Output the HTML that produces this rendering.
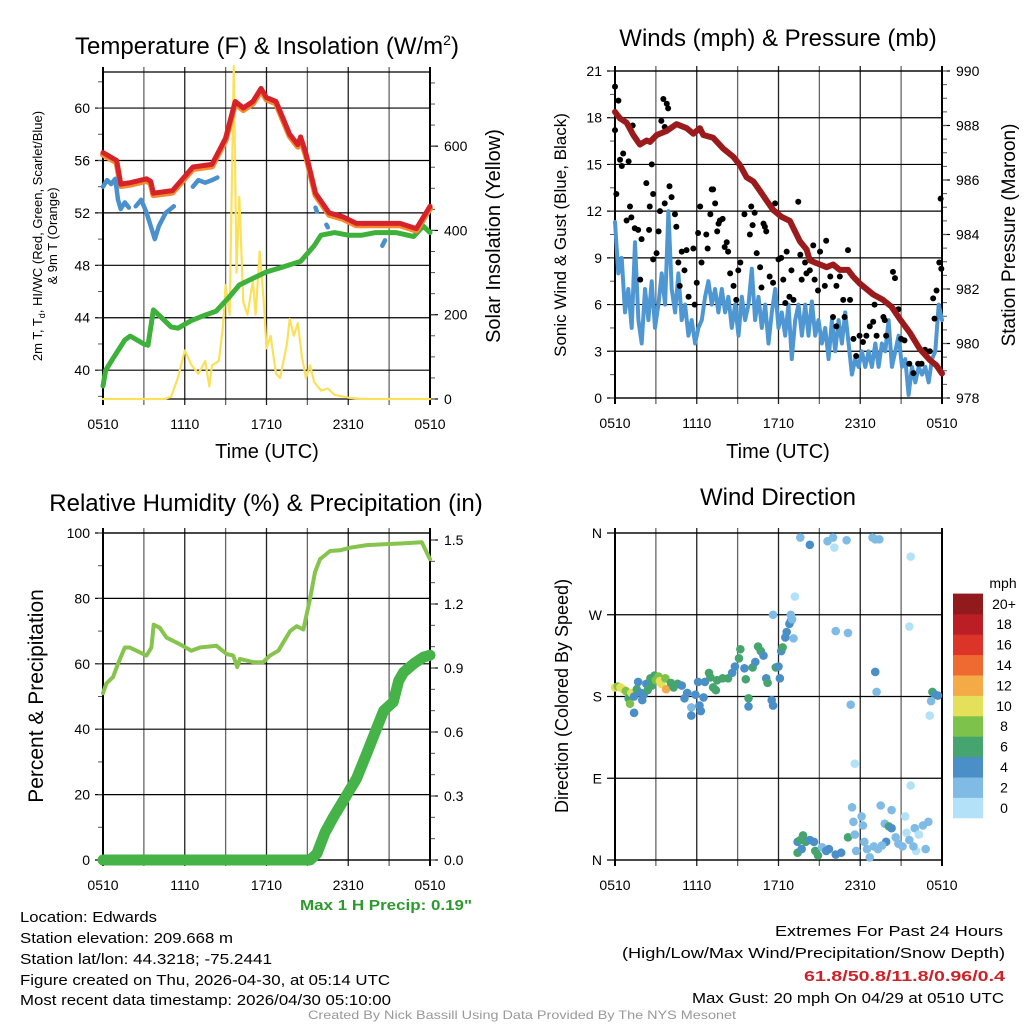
<!DOCTYPE html>
<html><head><meta charset="utf-8"><style>
html,body{margin:0;padding:0;background:#fff;}
svg{display:block;font-family:"Liberation Sans",sans-serif;}
.n{font-family:"Liberation Sans Narrow","Liberation Sans",sans-serif;}
</style></head><body>
<svg id="chart" width="1024" height="1024" viewBox="0 0 1024 1024" xmlns="http://www.w3.org/2000/svg">
<rect width="1024" height="1024" fill="#fff"/>
<text x="267" y="54" font-size="24" text-anchor="middle">Temperature (F) &amp; Insolation (W/m<tspan dy="-9" font-size="14">2</tspan><tspan dy="9">)</tspan></text>
<text x="778" y="46" font-size="24" text-anchor="middle">Winds (mph) &amp; Pressure (mb)</text>
<text x="266" y="511" font-size="24" text-anchor="middle">Relative Humidity (%) &amp; Precipitation (in)</text>
<text x="778" y="505" font-size="24" text-anchor="middle">Wind Direction</text>

<text transform="translate(42,236) rotate(-90)" font-size="13" text-anchor="middle">2m T, T<tspan font-size="9" dy="3">d</tspan><tspan dy="-3">, HI/WC (Red, Green, Scarlet/Blue)</tspan></text>
<text transform="translate(57,236) rotate(-90)" font-size="13" text-anchor="middle">&amp; 9m T (Orange)</text>
<text transform="translate(500,236) rotate(-90)" font-size="20" text-anchor="middle">Solar Insolation (Yellow)</text>
<text x="267" y="458" font-size="20" text-anchor="middle">Time (UTC)</text>
<text x="778" y="458" font-size="20" text-anchor="middle">Time (UTC)</text>
<text transform="translate(566,235) rotate(-90)" font-size="17" text-anchor="middle">Sonic Wind &amp; Gust (Blue, Black)</text>
<text transform="translate(1015,235) rotate(-90)" font-size="19" text-anchor="middle">Station Pressure (Maroon)</text>
<text transform="translate(43,696) rotate(-90)" font-size="21" text-anchor="middle">Percent &amp; Precipitation</text>
<text transform="translate(568,696) rotate(-90)" font-size="18" text-anchor="middle">Direction (Colored By Speed)</text>
<text x="1003" y="588" font-size="14" text-anchor="middle">mph</text>

<g class="n" font-size="15">
<text x="300" y="910" fill="#2e9a2e" font-weight="bold" textLength="172" lengthAdjust="spacingAndGlyphs">Max 1 H Precip: 0.19"</text>
<text x="20" y="922" textLength="137" lengthAdjust="spacingAndGlyphs">Location: Edwards</text>
<text x="20" y="943" textLength="213" lengthAdjust="spacingAndGlyphs">Station elevation: 209.668 m</text>
<text x="20" y="964" textLength="252" lengthAdjust="spacingAndGlyphs">Station lat/lon: 44.3218; -75.2441</text>
<text x="20" y="985" textLength="370" lengthAdjust="spacingAndGlyphs">Figure created on Thu, 2026-04-30, at 05:14 UTC</text>
<text x="20" y="1005" textLength="371" lengthAdjust="spacingAndGlyphs">Most recent data timestamp: 2026/04/30 05:10:00</text>
<text x="775" y="936" textLength="228" lengthAdjust="spacingAndGlyphs">Extremes For Past 24 Hours</text>
<text x="622" y="958" textLength="383" lengthAdjust="spacingAndGlyphs">(High/Low/Max Wind/Precipitation/Snow Depth)</text>
<text x="804" y="981" fill="#cc2229" font-weight="bold" textLength="201" lengthAdjust="spacingAndGlyphs">61.8/50.8/11.8/0.96/0.4</text>
<text x="692" y="1003" textLength="312" lengthAdjust="spacingAndGlyphs">Max Gust: 20 mph On 04/29 at 0510 UTC</text>
<text x="308" y="1019" font-size="12" fill="#999" textLength="428" lengthAdjust="spacingAndGlyphs">Created By Nick Bassill Using Data Provided By The NYS Mesonet</text>
</g>
<g id="layer"></g>
</svg>
<script>
// ---- Panel 1 data (hours since 0510 UTC) ----
const tempHours=[0,0.5,1,1.3,2,3.2,3.5,3.7,5.1,6.6,8,9,9.7,10.3,11,11.6,12,12.7,13.7,14.3,14.5,14.9,15.6,16.6,17.6,18.6,21.8,23,24];
const tempVals=[56.6,56.3,56,54.2,54.3,54.6,54.4,53.5,53.7,55.5,55.7,57.7,60.5,60,60.5,61.5,60.8,60.5,58,57.2,57.8,56.5,53.5,52,51.7,51.2,51.2,50.8,52.5];
const dewHours=[0,0.2,0.8,1.6,2,3,3.3,3.7,4.3,5,5.5,6.5,7.5,8.3,9.2,10,11,12,13,14.5,15.5,16,17,18,19,20,21.5,22.8,23.5,24];
const dewVals=[38.8,40,41,42.3,42.6,42,41.9,44.6,44,43.3,43.2,43.8,44.2,44.5,45.5,46.5,47,47.5,47.8,48.3,49.5,50.3,50.5,50.3,50.3,50.5,50.5,50.2,51,50.5];
const hiwcSegHours=[[0,0.3,0.6,0.9,1.1,1.3,1.6,1.9],[2.4,2.8,3.2,3.5,3.8,4.1,4.6,5.2],[6.6,7,7.5,8,8.4],[15.6,15.7],[16.4,16.5],[20.5,20.7]];
const hiwcSegVals=[[54,54.5,54.2,54.6,53,52.3,52.8,52.4],[52.5,53,52,51,50,51,52,52.5],[54,54.5,54.3,54.5,54.7],[52.4,52.1],[51.1,50.9],[49.5,49.9]];
const solarHours=[0,4.5,5,5.5,6,6.5,7,7.5,7.8,8,8.5,8.8,9,9.3,9.6,9.8,10,10.3,10.6,11,11.2,11.5,11.8,12,12.3,12.7,13,13.5,13.7,14,14.3,14.6,14.9,15.2,15.5,16,16.5,17,18,19,24];
const solarVals=[0,0,5,50,115,80,60,90,30,80,90,170,270,200,790,300,480,230,200,280,200,350,230,120,150,60,50,130,190,150,180,100,50,80,40,20,25,10,3,0,0];
const p1Ticks=[40,44,48,52,56,60];
const solarTicks=[0,200,400,600];
const timeLabels=["0510","1110","1710","2310","0510"];
// ---- Panel 2 data ----
const windVals=[11.3,8,9,5.5,7,4.5,10,5,3.5,7,5,7.5,4.5,6,8,6,12,7,5.5,8,5,6,4,5,3.5,4.5,5,6.5,7.5,6,7,5.5,7,5.5,6.5,4.5,6,4,6.5,5,6,8.3,5,6.5,4.5,6,3.5,5.5,7,4.5,5.5,4,6,2.5,5,6,4,6,4,6.2,4,5,3.5,4.5,2.5,5,3,5,3.5,5.5,3.5,1.5,2.5,2,3,2,3,2,3.5,2,3.5,3,5,2,3,4,2,2.5,0.2,2,1,2,1.5,2,1,2.5,3,6,5];
const gustHours=[0,0,0.25,0.1,0.37,0.6,0.5,1,1.1,0.85,1.2,1.3,1.45,1.7,1.95,1.85,2.3,2.55,2.5,2.7,2.8,2.8,3.05,3.3,3.2,3.4,3.55,3.8,3.9,3.65,4,4.15,3.65,4.4,4.5,4.65,4.75,4.9,5.25,5.1,5.4,5.75,5.85,6,6.1,6.25,6.35,6.7,6.8,7.1,7.2,7.35,7,7.5,7.6,7.7,7.9,8.05,8.2,8.3,8.45,8.7,8.9,9.05,9.2,9.5,9.9,10,10.1,10.25,10.4,10.65,10.75,10.9,11,11.1,11.35,11.6,11.75,12,12.2,12.35,12.5,12.6,12.8,12.95,13.1,13.45,13.6,13.7,13.95,14.05,14.3,14.55,14.65,14.9,15.05,15.4,15.5,15.8,16,16.25,16.25,16.5,16.75,16.85,17.1,17.25,17.5,17.7,17.95,18.2,18.45,18.7,18.95,19.05,19.2,19.7,19.8,19.9,20.4,20.55,20.8,21,21.25,21.6,21.9,22.25,22.5,22.75,23.1,23.35,23.45,23.6,23.8,23.95,23.9];
const gustVals=[20,17.2,19.1,13.1,15.3,15.7,14.9,15.2,12.3,11.4,11.6,17.5,10.9,10.8,10.2,7.6,13.8,12.3,10.8,15,13.1,8.9,9.3,12,10.7,17.8,19.2,18.9,18.6,17.4,13.6,12.9,12.5,11.8,11,8.7,7.2,9.4,9.5,8.2,6.5,9.6,6,7.4,10.6,12.3,8.7,10.5,9.6,13.4,13.4,12.5,11.8,10.7,11.2,11.4,11.5,9.7,10,9.4,8,7.2,6.3,8.2,8.7,11.8,10.5,12.3,11.1,11.9,9.3,8.4,7.1,11.2,11,10.7,7.8,7.4,12.5,8.9,9,7.6,6.1,9.4,6.5,8.2,6.3,12.6,9.2,7.6,8.7,8,8.2,9.8,7.6,6.9,9.4,7.2,10.1,7.8,5.2,7.2,4.6,7.8,6.3,5.2,9.5,6.3,3.8,2.7,4,3.6,4,4.6,4.9,6,4,5.2,5,4,8.1,7.7,5.7,3.8,3.7,2.2,1.6,2.2,2.2,3.1,3,6.4,5.1,6.9,8.7,8.3,12.8];
const presHours=[0,0.37,0.86,1.34,1.83,2.32,2.57,3.06,3.79,4.52,5.26,5.75,6.23,6.48,7.21,7.95,8.68,9.17,9.66,10.15,10.64,11.12,11.61,12.22,12.84,13.08,13.57,14.06,14.3,14.79,15.53,16.01,16.5,17.11,17.48,17.97,18.46,18.95,19.68,20.29,20.9,21.64,22.37,23.1,23.59,24];
const presVals=[988.5,988.26,988.1,987.65,987.3,987.45,987.4,987.65,987.8,988.05,987.9,987.7,987.9,987.65,987.55,987.15,986.85,986.55,986.1,985.95,985.6,985.25,984.9,984.65,984.5,984.25,983.75,983.45,983.05,982.95,982.8,982.9,982.7,982.7,982.45,982.2,982,981.8,981.6,981.35,980.9,980.4,979.8,979.4,979.2,978.9];
const windTicks=[0,3,6,9,12,15,18,21];
const presTicks=[978,980,982,984,986,988,990];
// ---- Panel 3 data ----
const rhHours=[0,0.25,0.74,1.1,1.6,1.96,2.45,3.19,3.55,3.72,4.17,4.66,5.64,6.49,7.11,8.33,9.07,9.56,9.85,10.05,11.03,11.76,12.25,12.87,13.73,14.22,14.71,15.2,15.56,15.93,16.67,17.4,18.14,19.36,21.81,23.4,24];
const rhVals=[51,54,56,60,65,65,64,62.5,65,72,71,68,66,64,65,65.5,63,62.5,59,61.5,60.5,60.5,62.5,64,70,71.5,70.5,80,88,92,94.5,94.7,95.5,96.3,96.8,97.2,92];
const precipHours=[0,15.2,15.7,16.3,16.9,17.65,18.6,19.36,20.1,20.6,21.3,21.7,22.06,22.8,23.5,24];
const precipVals=[0,0,0.03,0.13,0.2,0.28,0.38,0.5,0.62,0.7,0.74,0.84,0.88,0.92,0.95,0.96];
const rhTicks=[0,20,40,60,80,100];
const precipTicks=["0.0","0.3","0.6","0.9","1.2","1.5"];
// ---- Panel 4 data ----
const dirHours=[0,0.2,0.4,0.6,0.8,1,1.1,1.2,1.4,1.4,1.6,1.7,1.9,2,2.1,2.3,2.4,2.6,2.7,2.9,3,3.2,3.3,3.4,3.75,3.7,4.1,4.3,4.6,4.9,5.1,5.3,5.6,5.6,5.9,6.1,6.2,6.3,6.5,6.6,6.9,7,7.2,7.4,7.5,7.9,8.3,8.6,8.8,9.1,9.2,9.5,9.6,9.8,9.8,10.1,10.3,10.5,10.7,10.9,11.1,11.2,11.5,11.6,11.8,12,12.1,12.2,12.3,12.5,12.6,12.8,12.9,12.9,13,13.1,13.2,11.6,13.6,14.3,15.6,16,16.1,17,18.9,19.1,19.4,21.7,16.2,17.1,19.1,19.2,17.3,17.6,21.6,23.3,23.5,23.7,23.2,23.1,21.7,13.4,13.6,13.8,14,13.4,13.7,14.3,14.6,14.7,14.9,15.2,15.5,15.7,16.2,16.6,17.1,17.4,17.5,17.6,17.7,18.1,18.2,18.3,18.5,18.7,19,19.3,19.5,19.8,19.9,20.1,20.3,20.3,20.6,20.8,21.1,21.3,21.4,21.6,22,22.3,22.6,23,22.8,22.1,19.6,21.9];
const dirDegs=[190,191,190,188,186,178,172,184,180,162,188,196,184,176,182,194,187,200,192,203,198,202,197,194,188,200,195,190,194,192,178,184,168,159,182,196,170,164,179,196,206,201,190,187,198,200,200,206,213,222,232,211,199,178,169,212,218,235,230,225,200,195,176,170,212,213,200,230,234,245,251,260,263,270,265,244,290,270,355,347,351,355,344,352,355,353,353,334,252,250,207,185,171,106,257,185,182,181,175,159,82,20,22,27,20,8,12,22,20,10,5,14,10,12,6,8,25,58,42,28,10,48,38,20,12,3,15,12,60,40,20,37,55,35,25,18,15,48,30,22,35,28,38,42,12,10,16,15];
const dirSpeeds=[10,9,10,10,8,7,8,10,5,4,6,4,4,4,4,5,6,6,7,6,8,8,10,10,13,8,6,6,6,4,4,4,2,4,4,4,4,4,4,5,6,6,6,6,6,6,6,4,4,6,6,4,6,6,4,7,5,6,6,4,4,6,4,4,6,4,4,4,6,4,4,4,4,2,2,2,0,2,2,4,2,2,0,2,2,2,2,0,2,2,4,2,2,0,0,6,4,4,2,0,0,4,6,6,6,6,4,4,4,6,6,2,4,4,4,4,6,2,2,2,2,2,2,2,2,2,2,2,2,2,4,6,2,4,2,2,2,0,0,2,2,0,2,2,2,0,2,2];
const dirLabels=["N","E","S","W","N"];
const cbLabels=["0","2","4","6","8","10","12","14","16","18","20+"];
const cbColors=["#b3e2f8","#7fbbe4","#4a8fc7","#46a56e","#7dc24a","#e5e05a","#f5aa48","#ef6a30","#dc3428","#bb1e25","#921a1c"];

const NS="http://www.w3.org/2000/svg";
const layer=document.getElementById('layer');
function mk(tag,attrs,parent){const e=document.createElementNS(NS,tag);for(const k in attrs)e.setAttribute(k,attrs[k]);(parent||layer).appendChild(e);return e;}
function lin(d0,d1,r0,r1){return v=>r0+(v-d0)*(r1-r0)/(d1-d0);}

const P1={x0:103,x1:430,y0:72,y1:399,lo:30},P2={x0:615,x1:942,y0:71,y1:398,lo:30},P3={x0:103,x1:430,y0:533,y1:860,lo:30},P4={x0:615,x1:942,y0:533,y1:860,lo:30};

function frame(P,name){
  const g=mk('g',{});
  
  
  const X=lin(0,24,P.x0,P.x1);
  for(let h=0;h<=24;h+=3){
    const l=mk('line',{x1:X(h),x2:X(h),y1:P.y0-5,y2:P.y1+6,stroke:(h%6==0)?'#222':'#666','stroke-width':(h==0||h==24)?2:1.3},g);
    
    
  }
  for(let i=0;i<timeLabels.length;i++){
    const t=mk('text',{x:X(i*6),y:P.y1+P.lo,'font-size':14,'text-anchor':'middle'},g);
    t.textContent=timeLabels[i];
    
    
  }
  mk('line',{x1:P.x0,x2:P.x1,y1:P.y0,y2:P.y0,stroke:'#000','stroke-width':1.3},g);
  mk('line',{x1:P.x0,x2:P.x1,y1:P.y1,y2:P.y1,stroke:'#000','stroke-width':1.3},g);
  return X;
}
function hgrid(P,Y,ticks,labels,side,minorStep,dmin,dmax,name){
  const g=mk('g',{});
  
  
  ticks.forEach((v,i)=>{
    const y=Y(v);
    if(side=='left'){
      const l=mk('line',{x1:P.x0-8,x2:P.x1,y1:y,y2:y,stroke:'#000','stroke-width':1.2},g);
      
      
    } else {
      mk('line',{x1:P.x1,x2:P.x1+8,y1:y,y2:y,stroke:'#000','stroke-width':1.2},g);
    }
    const t=mk('text',{x:side=='left'?P.x0-13:P.x1+14,y:y+5,'font-size':14,'text-anchor':side=='left'?'end':'start'},g);
    t.textContent=labels[i];
    
    
  });
  if(minorStep){
    for(let v=Math.ceil(dmin/minorStep)*minorStep;v<=dmax+1e-9;v+=minorStep){
      const y=Y(v);
      if(side=='left') mk('line',{x1:P.x0-5,x2:P.x0,y1:y,y2:y,stroke:'#555','stroke-width':1},g);
      else mk('line',{x1:P.x1,x2:P.x1+5,y1:y,y2:y,stroke:'#555','stroke-width':1},g);
    }
  }
  mk('line',{x1:side=='left'?P.x0:P.x1,x2:side=='left'?P.x0:P.x1,y1:P.y0-5,y2:P.y1+6,stroke:'#000','stroke-width':2},g);
}
function path(xs,ys,X,Y,attrs,name){
  let d='';xs.forEach((h,i)=>{d+=(i?'L':'M')+X(h).toFixed(1)+','+Y(ys[i]).toFixed(1);});
  const p=mk('path',Object.assign({d:d,fill:'none','stroke-linejoin':'round','stroke-linecap':'round'},attrs));
  
  
  return p;
}

// Panel 1
let X=frame(P1,'temperature');
let Y=lin(37.8,62.75,P1.y1,P1.y0);
let Y2=lin(0,776,P1.y1,P1.y0);
hgrid(P1,Y,p1Ticks,p1Ticks.map(String),'left',2,38,62,'temperature-y-axis');
hgrid(P1,Y2,solarTicks,solarTicks.map(String),'right',50,0,750,'insolation-y-axis');
path(solarHours,solarVals,X,Y2,{stroke:'#fbe15b','stroke-width':2.2},'solar-insolation-line');
path(dewHours,dewVals,X,Y,{stroke:'#3db13a','stroke-width':5},'dewpoint-line');
path(tempHours,tempVals.map(v=>v-0.15),X,Y,{stroke:'#f58b2c','stroke-width':6},'temperature-9m-line');
path(tempHours,tempVals,X,Y,{stroke:'#d6232a','stroke-width':5},'temperature-2m-line');
hiwcSegHours.forEach((hs,i)=>path(hs,hiwcSegVals[i],X,Y,{stroke:'#4a90cc','stroke-width':4.5},'heat-index-wind-chill-segment'));

// Panel 2
X=frame(P2,'wind');
Y=lin(0,21,P2.y1,P2.y0);
Y2=lin(978,990,P2.y1,P2.y0);
hgrid(P2,Y,windTicks,windTicks.map(String),'left',1.5,0,21,'wind-y-axis');
hgrid(P2,Y2,presTicks,presTicks.map(String),'right',0.5,978,990,'pressure-y-axis');
path(windVals.map((v,i)=>i*24/(windVals.length-1)),windVals,X,Y,{stroke:'#4f97d3','stroke-width':4},'sonic-wind-line');
const gg=mk('g',{});


gustHours.forEach((h,i)=>{
  const c=mk('circle',{cx:X(h),cy:Y(gustVals[i]),r:3,fill:'#000'},gg);
  
  
});
path(presHours,presVals,X,Y2,{stroke:'#9b1b1c','stroke-width':6},'pressure-line');

// Panel 3
X=frame(P3,'humidity');
Y=lin(0,100,P3.y1,P3.y0);
Y2=lin(0,1.5,860,540);
hgrid(P3,Y,rhTicks,rhTicks.map(String),'left',10,0,100,'humidity-y-axis');
hgrid(P3,Y2,precipTicks.map(Number),precipTicks,'right',0.1,0,1.5,'precip-y-axis');
path(rhHours,rhVals,X,Y,{stroke:'#86c44d','stroke-width':4},'relative-humidity-line');
path(precipHours,precipVals,X,Y2,{stroke:'#45b347','stroke-width':11},'precipitation-line');

// Panel 4
X=frame(P4,'direction');
Y=lin(0,360,P4.y1,P4.y0);
hgrid(P4,Y,[0,90,180,270,360],dirLabels,'left',0,0,0,'direction-y-axis');
mk('line',{x1:P4.x1,x2:P4.x1,y1:P4.y0-5,y2:P4.y1+6,stroke:'#000','stroke-width':2});
const dg=mk('g',{});


dirHours.forEach((h,i)=>{
  const idx=Math.min(10,Math.floor(dirSpeeds[i]/2));
  const c=mk('circle',{cx:X(h),cy:Y(dirDegs[i]),r:4.3,fill:cbColors[idx]},dg);
  
  
});
// colorbar
const cb=mk('g',{});


const cbH=20.4;
cbColors.forEach((col,i)=>{
  const y=818-(i+1)*cbH;
  const r=mk('rect',{x:953,y:y,width:30,height:cbH+0.3,fill:col},cb);
  
  
  const t=mk('text',{x:1004,y:y+cbH/2+5,'font-size':14,'text-anchor':'middle'},cb);
  t.textContent=cbLabels[i];
  
  
});
</script>
</body></html>
